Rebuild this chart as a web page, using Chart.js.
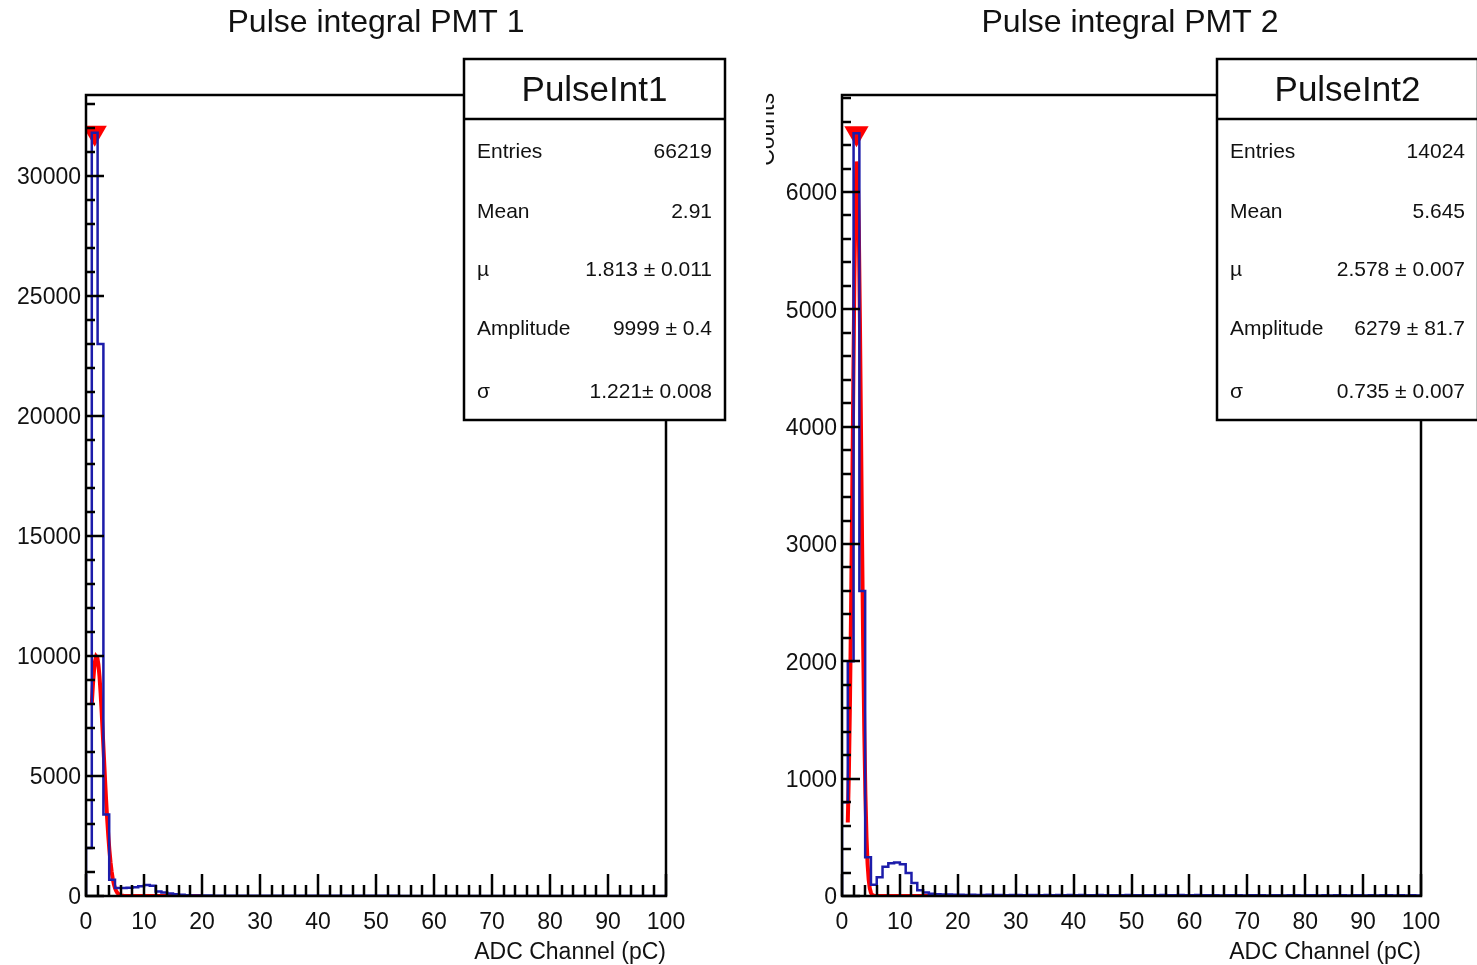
<!DOCTYPE html>
<html>
<head>
<meta charset="utf-8">
<title>Pulse integral PMT 1 / PMT 2</title>
<script src="https://cdn.jsdelivr.net/npm/chart.js@4/dist/chart.umd.min.js"></script>
<style>
  html, body { margin: 0; padding: 0; background: #fff; }
  #wrap { position: relative; width: 1477px; height: 965px; overflow: hidden; }
  canvas { position: absolute; top: 0; }
  #pmt1 { left: 0; width: 766px; height: 965px; }
  #pmt2 { left: 766px; width: 711px; height: 965px; }
</style>
</head>
<body>
<div id="wrap">
  <canvas id="pmt1" width="766" height="965"></canvas>
  <canvas id="pmt2" width="711" height="965"></canvas>
</div>
<script>
'use strict';

// 100 bins of 1 pC, 0..100
const xLabels = [0, 10, 20, 30, 40, 50, 60, 70, 80, 90, 100];

const pmt1Counts = [
  2000, 31800, 23000, 3400, 680, 330, 330, 340, 360, 410, 460, 430, 190, 150, 100, 70, 50, 35, 25, 20,
  18, 16, 15, 14, 13, 12, 12, 11, 11, 10, 10, 10, 9, 9, 9, 9, 8, 8, 8, 8,
  8, 7, 7, 7, 7, 7, 7, 6, 6, 6, 6, 6, 6, 6, 5, 5, 5, 5, 5, 5,
  5, 5, 5, 4, 4, 4, 4, 4, 4, 4, 4, 4, 3, 3, 3, 3, 3, 3, 3, 3,
  3, 3, 3, 3, 2, 2, 2, 2, 2, 2, 2, 2, 2, 2, 2, 2, 2, 2, 2, 2
];
const pmt2Counts = [
  800, 2000, 6500, 2600, 330, 95, 160, 250, 280, 285, 270, 195, 110, 50, 30, 20, 15, 12, 12, 10,
  10, 9, 11, 9, 8, 10, 8, 9, 7, 8, 9, 7, 8, 8, 7, 9, 7, 8, 6, 8,
  7, 8, 6, 7, 8, 6, 7, 7, 6, 8, 6, 7, 6, 7, 6, 8, 6, 7, 9, 6,
  7, 8, 6, 6, 7, 5, 6, 7, 6, 5, 7, 6, 6, 5, 6, 7, 5, 6, 6, 5,
  6, 7, 5, 6, 5, 6, 6, 5, 7, 6, 5, 6, 5, 6, 7, 5, 6, 5, 6, 5
];

const pmt1YLabels = [0, 5000, 10000, 15000, 20000, 25000, 30000];
const pmt2YLabels = [0, 1000, 2000, 3000, 4000, 5000, 6000];

// gaussian fit: [mu, amplitude, sigma], drawn over the fit range
const pmt1Fit = [1.813, 9999, 1.221];
const pmt2Fit = [2.578, 6279, 0.735];
const fitRange = [1, 20];

// bin holding the peak found by the spectrum search
const pmt1PeakBin = 1;
const pmt2PeakBin = 2;

const pmt1Stats = [
  ['Entries', '66219'],
  ['Mean', '2.91'],
  ['\u00b5', '1.813 \u00b1 0.011'],
  ['Amplitude', '9999 \u00b1 0.4'],
  ['\u03c3', '1.221\u00b1 0.008']
];
const pmt2Stats = [
  ['Entries', '14024'],
  ['Mean', '5.645'],
  ['\u00b5', '2.578 \u00b1 0.007'],
  ['Amplitude', '6279 \u00b1 81.7'],
  ['\u03c3', '0.735 \u00b1 0.007']
];

const FONT = '"Liberation Sans", Arial, Helvetica, sans-serif';

function histPoints(counts) {
  const pts = [{ x: 0, y: 0 }];
  counts.forEach((c, i) => pts.push({ x: i, y: c }));
  pts.push({ x: counts.length, y: 0 });
  return pts;
}

function fitPoints(par) {
  const pts = [];
  const npx = 100;
  const step = (fitRange[1] - fitRange[0]) / npx;
  for (let i = 0; i <= npx; i++) {
    const x = fitRange[0] + i * step;
    const d = (x - par[0]) / par[2];
    pts.push({ x: x, y: par[1] * Math.exp(-0.5 * d * d) });
  }
  return pts;
}

// frame, inward ticks, axis labels, title and stats box in the ROOT style
const rootPad = {
  id: 'rootPad',
  afterDatasetsDraw(chart, args, o) {
    const ctx = chart.ctx;
    const a = chart.chartArea;
    const xs = chart.scales.x, ys = chart.scales.y;
    ctx.save();
    ctx.strokeStyle = '#000';
    ctx.fillStyle = '#111';
    ctx.lineWidth = 2.5;

    ctx.beginPath();
    ctx.rect(a.left, a.top, a.right - a.left, a.bottom - a.top);
    ctx.stroke();

    // y ticks
    ctx.beginPath();
    for (let v = 0; v <= ys.max; v += o.yMinor) {
      const y = Math.round(ys.getPixelForValue(v));
      const len = (v % o.yMajor === 0) ? 18 : 9;
      ctx.moveTo(a.left, y);
      ctx.lineTo(a.left + len, y);
    }
    // x ticks
    for (let v = 0; v <= 100; v += 2) {
      const x = Math.round(xs.getPixelForValue(v));
      const len = (v % 10 === 0) ? 22 : 11;
      ctx.moveTo(x, a.bottom);
      ctx.lineTo(x, a.bottom - len);
    }
    ctx.stroke();

    ctx.font = '23px ' + FONT;
    ctx.textBaseline = 'middle';
    ctx.textAlign = 'right';
    o.yLabels.forEach(v => ctx.fillText(String(v), a.left - 5, ys.getPixelForValue(v) + 2));
    ctx.textAlign = 'center';
    xLabels.forEach(v => ctx.fillText(String(v), xs.getPixelForValue(v), a.bottom + 27));
    ctx.textAlign = 'right';
    ctx.fillText('ADC Channel (pC)', a.right, a.bottom + 57);

    // y title, sits mostly outside the pad
    if (o.yTitleX !== null) {
      ctx.save();
      ctx.translate(o.yTitleX, a.top - 2);
      ctx.rotate(-Math.PI / 2);
      ctx.textBaseline = 'alphabetic';
      ctx.textAlign = 'right';
      ctx.font = '23px ' + FONT;
      ctx.fillText('Counts', 0, 0);
      ctx.restore();
    }

    ctx.font = '32px ' + FONT;
    ctx.textAlign = 'center';
    ctx.fillText(o.title, o.titleX, 23);

    // stats box
    const b = o.box;
    ctx.fillStyle = '#fff';
    ctx.fillRect(b.x, b.y, b.w, b.h);
    ctx.strokeRect(b.x, b.y, b.w, b.h);
    ctx.beginPath();
    ctx.moveTo(b.x, b.y + 60);
    ctx.lineTo(b.x + b.w, b.y + 60);
    ctx.stroke();
    ctx.fillStyle = '#111';
    ctx.font = '35px ' + FONT;
    ctx.textAlign = 'center';
    ctx.fillText(o.name, b.x + b.w / 2, b.y + 32);
    ctx.font = '21px ' + FONT;
    const rows = [93, 153, 211, 270, 333];
    o.stats.forEach((s, i) => {
      ctx.textAlign = 'left';
      ctx.fillText(s[0], b.x + 13, b.y + rows[i]);
      ctx.textAlign = 'right';
      ctx.fillText(s[1], b.x + b.w - 13, b.y + rows[i]);
    });
    ctx.restore();
  }
};

function drawPad(id, counts, fit, peakBin, yMax, padOpts, padding) {
  const ctx = document.getElementById(id);
  return new Chart(ctx, {
    type: 'line',
    data: {
      datasets: [
        {
          data: histPoints(counts),
          stepped: true,
          borderColor: '#1c1caa',
          borderWidth: 2.5,
          pointRadius: 0,
          fill: false
        },
        {
          data: fitPoints(fit),
          borderColor: '#ff0000',
          borderWidth: 4,
          pointRadius: 0,
          tension: 0,
          fill: false
        },
        {
          data: [{ x: peakBin + 0.5, y: counts[peakBin] }],
          showLine: false,
          pointStyle: 'triangle',
          rotation: 180,
          pointRadius: 14,
          backgroundColor: '#ff0000',
          borderWidth: 0
        }
      ]
    },
    options: {
      responsive: false,
      animation: false,
      events: [],
      layout: { padding: padding },
      scales: {
        x: { type: 'linear', min: 0, max: 100, display: false },
        y: { type: 'linear', min: 0, max: yMax, display: false }
      },
      plugins: {
        legend: { display: false },
        tooltip: { enabled: false },
        rootPad: padOpts
      }
    },
    plugins: [rootPad]
  });
}

drawPad('pmt1', pmt1Counts, pmt1Fit, pmt1PeakBin, 33375, {
  title: 'Pulse integral PMT 1', titleX: 376,
  yLabels: pmt1YLabels, yMajor: 5000, yMinor: 1000, yTitleX: null,
  name: 'PulseInt1', stats: pmt1Stats,
  box: { x: 464, y: 59, w: 261, h: 361 }
}, { left: 86, right: 100, top: 95, bottom: 69 });

drawPad('pmt2', pmt2Counts, pmt2Fit, pmt2PeakBin, 6827, {
  title: 'Pulse integral PMT 2', titleX: 364,
  yLabels: pmt2YLabels, yMajor: 1000, yMinor: 200, yTitleX: 8,
  name: 'PulseInt2', stats: pmt2Stats,
  box: { x: 451, y: 59, w: 261, h: 361 }
}, { left: 76, right: 56, top: 95, bottom: 69 });
</script>
</body>
</html>
